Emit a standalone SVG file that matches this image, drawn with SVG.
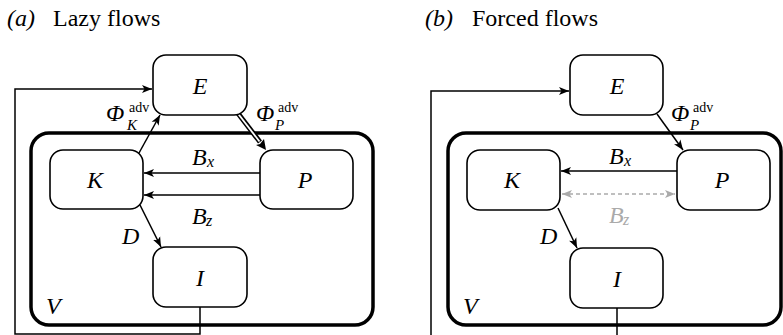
<svg xmlns="http://www.w3.org/2000/svg" width="783" height="335" viewBox="0 0 783 335">
<style>
.box{fill:#fff;stroke:#000;stroke-width:1.6}
.outer{fill:none;stroke:#000;stroke-width:3.5}
.ln{fill:none;stroke:#000;stroke-width:1.5}
</style>
<defs>
<marker id="ah" markerUnits="userSpaceOnUse" markerWidth="12" markerHeight="10" refX="10" refY="4" orient="auto-start-reverse" viewBox="0 0 12 8">
<path d="M0,0 L10,4 L0,8 L2.5,4 z" fill="#000"/>
</marker>
<marker id="ahg" markerUnits="userSpaceOnUse" markerWidth="12" markerHeight="10" refX="10" refY="4" orient="auto-start-reverse" viewBox="0 0 12 8">
<path d="M0,0 L10,4 L0,8 L2.5,4 z" fill="#aaa"/>
</marker>
</defs>

<!-- Titles -->
<text x="7" y="26" font-family="Liberation Serif" font-size="24" font-style="italic">(a)</text>
<text x="53" y="26" font-family="Liberation Serif" font-size="24">Lazy flows</text>
<text x="425" y="26" font-family="Liberation Serif" font-size="24" font-style="italic">(b)</text>
<text x="472" y="26" font-family="Liberation Serif" font-size="24">Forced flows</text>

<!-- Panel (a) -->
<g id="a-V"><rect class="outer" x="31" y="133" width="342" height="192" rx="18"/><text x="46" y="314" font-family="Liberation Serif" font-style="italic" font-size="24">V</text></g>
<g id="connectors-a">
<path class="ln" d="M200 307 V334 H15 V89 H152" marker-end="url(#ah)"/>
<path class="ln" d="M260 173 H144" marker-end="url(#ah)"/>
<path class="ln" d="M260 195 H144" marker-end="url(#ah)"/>
<path class="ln" d="M140 205 L161 247" marker-end="url(#ah)"/>
<path class="ln" d="M139 153 L160 115" marker-end="url(#ah)"/>
<path d="M237 112 L260 142" stroke="#000" stroke-width="5" fill="none"/>
<path d="M236 111 L259.5 141.5" stroke="#fff" stroke-width="1.8" fill="none"/>
<polygon points="266,150 264,139 260,144 256,145" fill="#000"/>
</g>
<g id="a-E"><rect class="box" x="153" y="55" width="94" height="60" rx="13"/><text x="200" y="94" text-anchor="middle" font-family="Liberation Serif" font-style="italic" font-size="24">E</text></g>
<g id="a-K"><rect class="box" x="50" y="150" width="93" height="59" rx="13"/><text x="95" y="188" text-anchor="middle" font-family="Liberation Serif" font-style="italic" font-size="24">K</text></g>
<g id="a-P"><rect class="box" x="260" y="150" width="93" height="59" rx="13"/><text x="305" y="188" text-anchor="middle" font-family="Liberation Serif" font-style="italic" font-size="24">P</text></g>
<g id="a-I"><rect class="box" x="153" y="247" width="94" height="60" rx="13"/><text x="200" y="286" text-anchor="middle" font-family="Liberation Serif" font-style="italic" font-size="24">I</text></g>
<g id="a-labels">
<text x="106" y="121" font-family="Liberation Serif" font-style="italic" font-size="24">Φ</text><text x="129" y="112" font-family="Liberation Serif" font-size="14">adv</text><text x="127" y="130" font-family="Liberation Serif" font-style="italic" font-size="15">K</text>
<text x="256" y="121" font-family="Liberation Serif" font-style="italic" font-size="24">Φ</text><text x="278" y="112" font-family="Liberation Serif" font-size="14">adv</text><text x="275" y="130" font-family="Liberation Serif" font-style="italic" font-size="15">P</text>
<text x="192" y="165" font-family="Liberation Serif" font-style="italic" font-size="24">B</text><text x="207" y="167" font-family="Liberation Serif" font-style="italic" font-size="16">x</text>
<text x="192" y="224" font-family="Liberation Serif" font-style="italic" font-size="24">B</text><text x="206" y="226" font-family="Liberation Serif" font-style="italic" font-size="16">z</text>
<text x="122" y="244" font-family="Liberation Serif" font-style="italic" font-size="24">D</text>
</g>

<!-- Panel (b) -->
<g id="b-V"><rect class="outer" x="448" y="133" width="333" height="192" rx="18"/><text x="463" y="314" font-family="Liberation Serif" font-style="italic" font-size="24">V</text></g>
<g id="connectors-b">
<path class="ln" d="M617 308 V345 H431 V91 H569" marker-end="url(#ah)"/>
<path class="ln" d="M677 171 H561" marker-end="url(#ah)"/>
<path d="M562 194 H675" fill="none" stroke="#aaa" stroke-width="1.5" stroke-dasharray="4 3" marker-start="url(#ahg)" marker-end="url(#ahg)"/>
<path class="ln" d="M558 208 L577 248" marker-end="url(#ah)"/>
<path class="ln" d="M657 114 L683 150" marker-end="url(#ah)"/>
</g>
<g id="b-E"><rect class="box" x="570" y="55" width="93" height="60" rx="13"/><text x="617" y="94" text-anchor="middle" font-family="Liberation Serif" font-style="italic" font-size="24">E</text></g>
<g id="b-K"><rect class="box" x="467" y="150" width="93" height="60" rx="13"/><text x="512" y="188" text-anchor="middle" font-family="Liberation Serif" font-style="italic" font-size="24">K</text></g>
<g id="b-P"><rect class="box" x="677" y="150" width="93" height="60" rx="13"/><text x="722" y="188" text-anchor="middle" font-family="Liberation Serif" font-style="italic" font-size="24">P</text></g>
<g id="b-I"><rect class="box" x="570" y="248" width="93" height="60" rx="13"/><text x="617" y="287" text-anchor="middle" font-family="Liberation Serif" font-style="italic" font-size="24">I</text></g>
<g id="b-labels">
<text x="671" y="121" font-family="Liberation Serif" font-style="italic" font-size="24">Φ</text><text x="693" y="112" font-family="Liberation Serif" font-size="14">adv</text><text x="690" y="130" font-family="Liberation Serif" font-style="italic" font-size="15">P</text>
<text x="609" y="164" font-family="Liberation Serif" font-style="italic" font-size="24">B</text><text x="624" y="166" font-family="Liberation Serif" font-style="italic" font-size="16">x</text>
<text x="609" y="223" font-family="Liberation Serif" font-style="italic" font-size="24" fill="#aaa">B</text><text x="623" y="225" font-family="Liberation Serif" font-style="italic" font-size="16" fill="#aaa">z</text>
<text x="540" y="244" font-family="Liberation Serif" font-style="italic" font-size="24">D</text>
</g>
</svg>
